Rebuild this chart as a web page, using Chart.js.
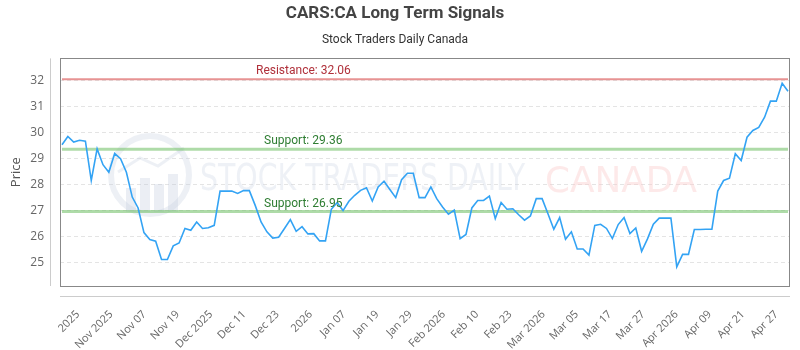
<!DOCTYPE html>
<html>
<head>
<meta charset="utf-8">
<script src="https://cdn.jsdelivr.net/npm/chart.js@4/dist/chart.umd.min.js"></script>
<style>
  html, body { margin: 0; padding: 0; background: #fff; }
</style>
</head>
<body>
<canvas id="chart" width="800" height="350"></canvas>
<script>
// 종가 데이터
const prices = [
  29.53, 29.85, 29.63, 29.70, 29.67, 28.15, 29.37, 28.76, 28.47, 29.19,
  28.99, 28.47, 27.51, 27.09, 26.14, 25.87, 25.81, 25.10, 25.10, 25.63,
  25.74, 26.30, 26.23, 26.55, 26.30, 26.33, 26.42, 27.74, 27.74, 27.74,
  27.65, 27.76, 27.76, 27.19, 26.55, 26.17, 25.93, 25.96, 26.30, 26.64,
  26.19, 26.37, 26.09, 26.10, 25.82, 25.82, 27.04, 27.30, 26.99, 27.35,
  27.58, 27.77, 27.87, 27.36, 27.90, 28.12, 27.80, 27.49, 28.18, 28.43,
  28.43, 27.49, 27.49, 27.90, 27.45, 27.13, 26.85, 27.01, 25.91, 26.07,
  27.09, 27.38, 27.38, 27.55, 26.68, 27.30, 27.04, 27.06, 26.83, 26.62,
  26.78, 27.45, 27.45, 26.87, 26.27, 26.72, 25.88, 26.17, 25.51, 25.51,
  25.27, 26.42, 26.46, 26.30, 25.91, 26.45, 26.72, 26.10, 26.32, 25.42,
  25.90, 26.46, 26.70, 26.70, 26.70, 24.82, 25.30, 25.30, 26.26, 26.26,
  26.27, 26.27, 27.74, 28.15, 28.24, 29.18, 28.92, 29.82, 30.08, 30.20,
  30.59, 31.21, 31.21, 31.90, 31.59
];

// x축 눈금 라벨
const tickLabels = [
  '2025', 'Nov 2025', 'Nov 07', 'Nov 19', 'Dec 2025', 'Dec 11', 'Dec 23',
  '2026', 'Jan 07', 'Jan 19', 'Jan 29', 'Feb 2026', 'Feb 10', 'Feb 23',
  'Mar 2026', 'Mar 05', 'Mar 17', 'Mar 27', 'Apr 2026', 'Apr 09', 'Apr 21', 'Apr 27'
];

// 저항선 / 지지선
const resistance = 32.06;
const supports = [29.36, 26.95];

const yMin = 24.08;
const yMax = 32.86;
const tickStart = 2.73;
const tickStep = 5.68;

const FONT = '"Open Sans", sans-serif';

// 워터마크 + 라벨 + 테두리 플러그인
const decor = {
  id: 'decor',
  beforeDatasetsDraw(chart) {
    const ctx = chart.ctx;
    ctx.save();
    // 로고 원
    ctx.strokeStyle = 'rgba(195, 205, 222, 0.3)';
    ctx.lineWidth = 6;
    ctx.beginPath();
    ctx.arc(150, 175, 39, 0, Math.PI * 2);
    ctx.stroke();
    // 로고 막대
    ctx.fillStyle = 'rgba(190, 200, 220, 0.3)';
    [[126, 188, 10, 24], [140, 178, 10, 34], [154, 184, 10, 28], [168, 174, 10, 38]].forEach(b => {
      ctx.fillRect(b[0], b[1], b[2], b[3]);
    });
    ctx.lineWidth = 3;
    ctx.beginPath();
    ctx.moveTo(118, 172);
    ctx.lineTo(140, 158);
    ctx.lineTo(158, 166);
    ctx.lineTo(184, 148);
    ctx.stroke();

    // 워터마크 텍스트
    const drawFit = (text, x, yBase, w, size, color) => {
      ctx.font = `${size}px "DejaVu Sans Condensed", "Liberation Sans Narrow", sans-serif`;
      const m = ctx.measureText(text).width;
      ctx.save();
      ctx.translate(x, yBase);
      ctx.scale(w / m, 1);
      ctx.fillStyle = color;
      ctx.textBaseline = 'alphabetic';
      ctx.fillText(text, 0, 0);
      ctx.restore();
    };
    drawFit('STOCK TRADERS DAILY', 200, 190, 325, 37, 'rgba(205, 214, 230, 0.35)');
    drawFit('CANADA', 545, 192, 152, 36, 'rgba(250, 200, 200, 0.4)');
    ctx.restore();
  },
  afterDatasetsDraw(chart) {
    const ctx = chart.ctx;
    const y = chart.scales.y;
    ctx.save();
    ctx.font = '12px "Roboto", sans-serif';
    ctx.textBaseline = 'bottom';
    ctx.textAlign = 'left';
    ctx.fillStyle = '#b0303a';
    ctx.fillText('Resistance: ' + resistance.toFixed(2), 256, y.getPixelForValue(resistance) - 2);
    ctx.fillStyle = '#2e7d32';
    supports.forEach(s => {
      ctx.fillText('Support: ' + s.toFixed(2), 264, y.getPixelForValue(s) - 2);
    });
    ctx.restore();
  },
  afterDraw(chart) {
    const ctx = chart.ctx;
    const a = chart.chartArea;
    ctx.save();
    ctx.strokeStyle = '#888';
    ctx.lineWidth = 1;
    ctx.strokeRect(Math.round(a.left) + 0.5, Math.round(a.top) + 0.5,
      Math.round(a.right - a.left) - 1, Math.round(a.bottom - a.top));
    ctx.strokeStyle = '#ccc';
    ctx.beginPath();
    ctx.moveTo(Math.round(a.left) - 9.5, a.top);
    ctx.lineTo(Math.round(a.left) - 9.5, a.bottom);
    ctx.moveTo(a.left, Math.round(a.bottom) + 10.5);
    ctx.lineTo(a.right, Math.round(a.bottom) + 10.5);
    ctx.stroke();
    ctx.restore();
  }
};

const xy = arr => arr.map((v, i) => ({ x: i, y: v }));
const flat = v => prices.map((_, i) => ({ x: i, y: v }));

const chart = new Chart(document.getElementById('chart'), {
  type: 'line',
  data: {
    datasets: [
      {
        label: 'CARS:CA',
        data: xy(prices),
        borderColor: '#33a3f4',
        borderWidth: 1.6,
        pointRadius: 0,
        fill: false,
        tension: 0
      },
      {
        label: 'Resistance',
        data: flat(resistance),
        borderColor: 'rgba(225, 120, 120, 0.8)',
        borderWidth: 2,
        pointRadius: 0
      },
      {
        label: 'Support 1',
        data: flat(supports[0]),
        borderColor: 'rgba(120, 195, 110, 0.6)',
        borderWidth: 3,
        pointRadius: 0
      },
      {
        label: 'Support 2',
        data: flat(supports[1]),
        borderColor: 'rgba(120, 195, 110, 0.6)',
        borderWidth: 3,
        pointRadius: 0
      }
    ]
  },
  options: {
    responsive: false,
    animation: false,
    layout: { padding: { left: 0, right: 10, top: 0, bottom: 0 } },
    plugins: {
      legend: { display: false },
      tooltip: { enabled: false },
      title: {
        display: true,
        text: 'CARS:CA Long Term Signals',
        color: '#444',
        font: { family: '"Roboto", sans-serif', size: 17, weight: 'bold' },
        padding: { top: 4, bottom: 8 }
      },
      subtitle: {
        display: true,
        text: 'Stock Traders Daily Canada',
        color: '#333',
        font: { family: '"Roboto", sans-serif', size: 12 },
        padding: { top: 0, bottom: 11.6 }
      }
    },
    scales: {
      x: {
        type: 'linear',
        min: -0.34,
        max: prices.length - 1 + 0.34,
        grid: { display: false },
        border: { display: false },
        afterBuildTicks: s => {
          s.ticks = tickLabels.map((_, k) => ({ value: tickStart + k * tickStep }));
        },
        ticks: {
          autoSkip: false,
          minRotation: 45,
          maxRotation: 45,
          padding: 14,
          color: '#666',
          font: { family: FONT, size: 11 },
          callback: (v, i) => tickLabels[i]
        },
        afterFit: s => { s.height = 64; }
      },
      y: {
        min: yMin,
        max: yMax,
        grid: { color: '#e4e4e4', drawTicks: false },
        border: { display: false, dash: [4, 3] },
        afterBuildTicks: s => {
          s.ticks = s.ticks.filter(t => Number.isInteger(t.value) && t.value <= 32);
        },
        ticks: {
          stepSize: 1,
          includeBounds: false,
          padding: 16,
          color: '#666',
          font: { family: FONT, size: 12 }
        },
        title: {
          display: true,
          text: 'Price',
          color: '#555',
          font: { family: FONT, size: 13 },
          padding: { top: 8, bottom: 0 }
        },
        afterFit: s => { s.width = 60; }
      }
    }
  },
  plugins: [decor]
});
</script>
</body>
</html>
